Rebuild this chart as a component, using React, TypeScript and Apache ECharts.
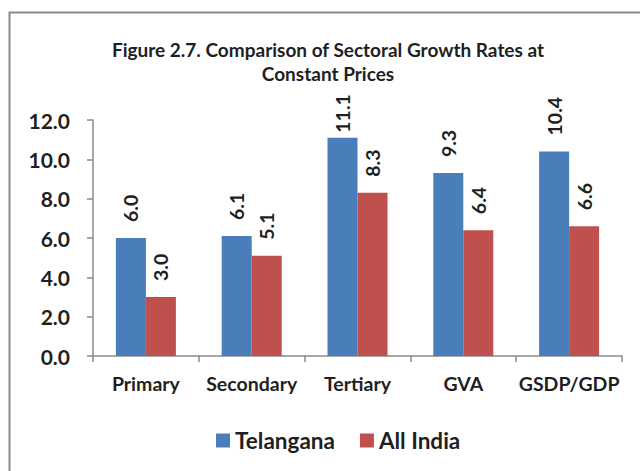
import React, { useEffect, useRef } from "react";
import * as echarts from "echarts";

const categories = ["Primary", "Secondary", "Tertiary", "GVA", "GSDP/GDP"];
const telangana = [6.0, 6.1, 11.1, 9.3, 10.4];
const allIndia = [3.0, 5.1, 8.3, 6.4, 6.6];
const seriesNames = ["Telangana", "All India"];
const titleText = "Figure 2.7. Comparison of Sectoral Growth Rates at\nConstant Prices";

const FONT = "Lato, 'Open Sans', sans-serif";
const TEXT = "#1f1f1f";

export default function App() {
  const ref = useRef<HTMLDivElement>(null);
  useEffect(() => {
    if (!ref.current) return;
    const chart = echarts.init(ref.current, null, { renderer: "svg" });
    const labelBase = {
      show: true,
      position: "top",
      rotate: 90,
      align: "left",
      verticalAlign: "middle",
      distance: 16,
      fontFamily: FONT,
      fontWeight: "bold",
      fontSize: 19.5,
      color: TEXT,
      formatter: (p: any) => Number(p.value).toFixed(1),
    };
    const mkData = (vals: number[]) =>
      vals.map((v) => (v > 11 ? { value: v, label: { distance: 5 } } : v));
    chart.setOption({
      animation: false,
      backgroundColor: "#ffffff",
      title: {
        text: titleText,
        left: 323,
        textAlign: "center",
        top: 32,
        textStyle: {
          fontFamily: FONT,
          fontWeight: "bold",
          fontSize: 19,
          color: TEXT,
          lineHeight: 24,
        },
      },
      graphic: [
        {
          type: "rect",
          shape: { x: 9.5, y: 12.5, width: 700, height: 500 },
          style: { fill: "none", stroke: "#8a8a8a", lineWidth: 2 },
          silent: true,
        },
      ],
      legend: {
        data: seriesNames,
        top: 424,
        left: 211,
        itemWidth: 14,
        itemHeight: 14,
        itemGap: 25,
        icon: "rect",
        textStyle: {
          fontFamily: FONT,
          fontWeight: "bold",
          fontSize: 22.5,
          color: TEXT,
        },
      },
      grid: { left: 93, right: 18, top: 120, bottom: 115, containLabel: false },
      xAxis: {
        type: "category",
        data: categories,
        axisLine: { lineStyle: { color: "#8a8a8a", width: 1.5 } },
        axisTick: { show: true, length: 6, lineStyle: { color: "#8a8a8a", width: 1.5 } },
        axisLabel: {
          interval: 0,
          fontFamily: FONT,
          fontWeight: "bold",
          fontSize: 19.5,
          color: TEXT,
          margin: 17,
        },
      },
      yAxis: {
        type: "value",
        min: 0,
        max: 12,
        interval: 2,
        splitLine: { show: false },
        axisLine: { show: true, lineStyle: { color: "#8a8a8a", width: 1.5 } },
        axisTick: { show: true, length: 6, lineStyle: { color: "#8a8a8a", width: 1.5 } },
        axisLabel: {
          fontFamily: FONT,
          fontWeight: "bold",
          fontSize: 21,
          color: TEXT,
          margin: 23,
          formatter: (v: number) => v.toFixed(1),
        },
      },
      series: [
        {
          name: seriesNames[0],
          type: "bar",
          data: mkData(telangana),
          barWidth: 30,
          barGap: "0%",
          itemStyle: { color: "#4A7EBB" },
          label: labelBase,
        },
        {
          name: seriesNames[1],
          type: "bar",
          data: mkData(allIndia),
          barWidth: 30,
          barGap: "0%",
          itemStyle: { color: "#C0504D" },
          label: labelBase,
        },
      ],
    });
    return () => chart.dispose();
  }, []);
  return (
    <div style={{ position: "fixed", left: 0, top: 0, width: 640, height: 471, background: "#fff" }}>
      <div ref={ref} style={{ width: 640, height: 471 }} />
    </div>
  );
}
